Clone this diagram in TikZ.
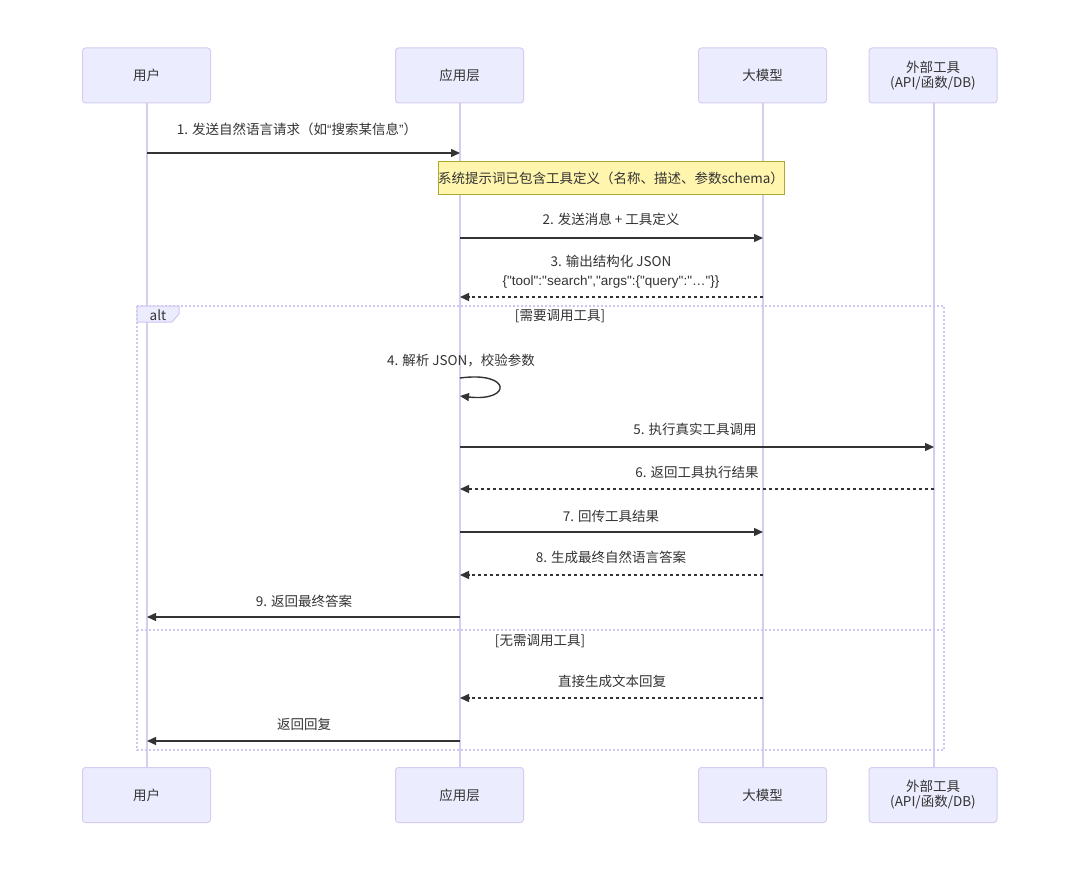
\documentclass[tikz,border=0pt]{standalone}
\usepackage{fontspec}
\setmainfont{Noto Sans CJK SC}
\newfontfamily\lat{Liberation Sans}
\usetikzlibrary{arrows.meta}
\definecolor{actfill}{HTML}{ECECFF}
\definecolor{actline}{HTML}{D6CCF2}
\definecolor{ink}{HTML}{333333}
\definecolor{notefill}{HTML}{FFF5AD}
\definecolor{noteline}{HTML}{AAAA33}
\definecolor{altline}{HTML}{CFC6F2}
\tikzset{
  actor/.style={draw=actline, fill=actfill, rounded corners=3pt, line width=1pt,
    minimum width=128pt, minimum height=55pt, inner sep=0pt, align=center,
    font=\fontsize{13.5}{15}\selectfont, text=ink},
  life/.style={draw=actline, line width=1.6pt},
  msg/.style={draw=ink, line width=1.4pt, -{Triangle[length=9pt,width=8pt]}},
  rmsg/.style={msg, dash pattern=on 3pt off 3pt},
  lbl/.style={font=\fontsize{13.5}{19}\selectfont, text=ink, inner sep=0pt, align=center},
  altframe/.style={draw=altline, line width=1.6pt, dash pattern=on 2pt off 2pt},
}
\begin{document}
\begin{tikzpicture}[x=1pt, y=-1pt]
\useasboundingbox (0,0) rectangle (1080,872);
\fill[white] (0,0) rectangle (1080,872);
% lifelines
\coordinate (uT) at (147,103); \coordinate (uB) at (147,768);
\coordinate (aT) at (460,103); \coordinate (aB) at (460,768);
\coordinate (mT) at (763,103); \coordinate (mB) at (763,768);
\coordinate (tT) at (934,103); \coordinate (tB) at (934,768);
\draw[life] (uT) -- (uB);
\draw[life] (aT) -- (aB);
\draw[life] (mT) -- (mB);
\draw[life] (tT) -- (tB);
% actors top
\node[actor] (user1) at (146.5,75.5) {用户};
\node[actor] (app1) at (459.5,75.5) {应用层};
\node[actor] (llm1) at (762.5,75.5) {大模型};
\node[actor] (tool1) at (933,75.5) {外部工具\\(API/函数/DB)};
% actors bottom
\node[actor] (user2) at (146.5,795) {用户};
\node[actor] (app2) at (459.5,795) {应用层};
\node[actor] (llm2) at (762.5,795) {大模型};
\node[actor] (tool2) at (933,795) {外部工具\\(API/函数/DB)};
% alt frame
\draw[altframe] (137,306) rectangle (944,750);
\draw[altframe] (137,630) -- (944,630);
\draw[draw=altline, fill=actfill, line width=1pt] (137,306) -- (179,306) -- (179,314) -- (172,322) -- (137,322) -- cycle;
\node[lbl] (altlbl) at (158,315) {alt};
\node[lbl] (cond1) at (560,316) {[需要调用工具]};
\node[lbl] (cond2) at (540,641) {[无需调用工具]};
% message 1
\coordinate (m1s) at (147,153); \coordinate (m1e) at (460,153);
\node[lbl] (l1) at (297,129) {1. 发送自然语言请求（如{\lat “}搜索某信息{\lat ”}）};
\draw[msg] (m1s) -- (m1e);
% note
\node[draw=noteline, fill=notefill, line width=1pt, minimum width=346pt, minimum height=33pt,
  inner sep=0pt, font=\fontsize{13.5}{15}\selectfont, text=ink] (note) at (611,178.5)
  {系统提示词已包含工具定义（名称、描述、参数schema）};
% message 2
\coordinate (m2s) at (460,238); \coordinate (m2e) at (763,238);
\node[lbl] (l2) at (611,219) {2. 发送消息 + 工具定义};
\draw[msg] (m2s) -- (m2e);
% message 3
\coordinate (m3s) at (763,297); \coordinate (m3e) at (460,297);
\node[lbl] (l3) at (611,271.5) {3. 输出结构化 JSON\\{\lat \{"tool":"search","args":\{"query":"…"\}\}}};
\draw[rmsg] (m3s) -- (m3e);
% message 4 self
\coordinate (m4s) at (460,378); \coordinate (m4e) at (460,396);
\node[lbl] (l4) at (461,361) {4. 解析 JSON，校验参数};
\draw[msg] (m4s) .. controls (512,371) and (512,402) .. (m4e);
% message 5
\coordinate (m5s) at (460,447); \coordinate (m5e) at (934,447);
\node[lbl] (l5) at (695,429) {5. 执行真实工具调用};
\draw[msg] (m5s) -- (m5e);
% message 6
\coordinate (m6s) at (934,489); \coordinate (m6e) at (460,489);
\node[lbl] (l6) at (697,472) {6. 返回工具执行结果};
\draw[rmsg] (m6s) -- (m6e);
% message 7
\coordinate (m7s) at (460,532); \coordinate (m7e) at (763,532);
\node[lbl] (l7) at (611,516) {7. 回传工具结果};
\draw[msg] (m7s) -- (m7e);
% message 8
\coordinate (m8s) at (763,575); \coordinate (m8e) at (460,575);
\node[lbl] (l8) at (611,557) {8. 生成最终自然语言答案};
\draw[rmsg] (m8s) -- (m8e);
% message 9
\coordinate (m9s) at (460,617); \coordinate (m9e) at (147,617);
\node[lbl] (l9) at (304,601) {9. 返回最终答案};
\draw[msg] (m9s) -- (m9e);
% message 10
\coordinate (m10s) at (763,698); \coordinate (m10e) at (460,698);
\node[lbl] (l10) at (612,681) {直接生成文本回复};
\draw[rmsg] (m10s) -- (m10e);
% message 11
\coordinate (m11s) at (460,741); \coordinate (m11e) at (147,741);
\node[lbl] (l11) at (304,724) {返回回复};
\draw[msg] (m11s) -- (m11e);
\end{tikzpicture}
\end{document}
